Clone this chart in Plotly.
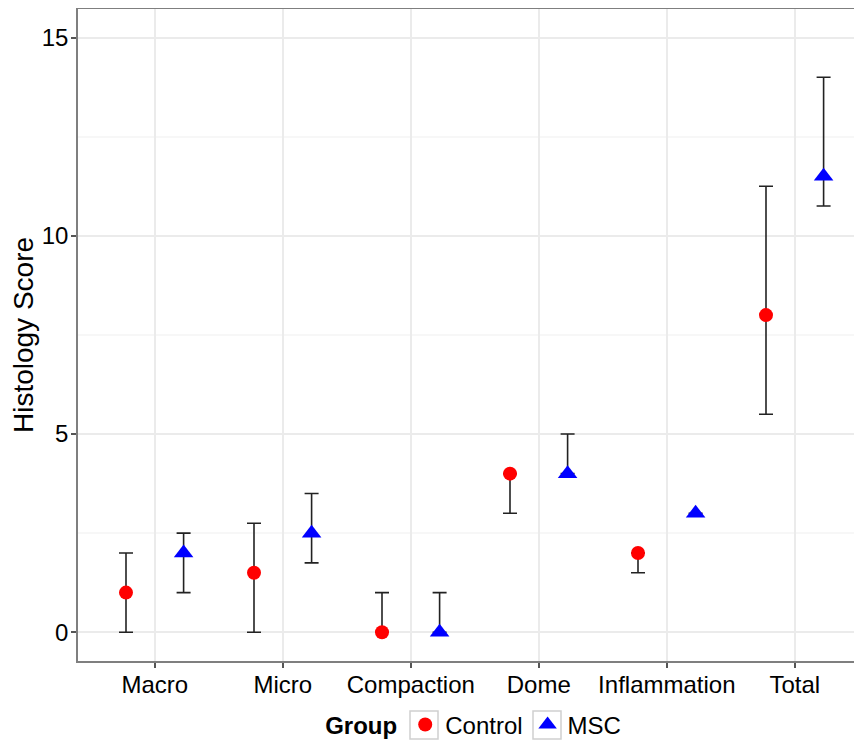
import plotly.graph_objects as go

categories = ["Macro", "Micro", "Compaction", "Dome", "Inflammation", "Total"]
control_score = [1, 1.5, 0, 4, 2, 8]
control_lo = [0, 0, 0, 3, 1.5, 5.5]
control_hi = [2, 2.75, 1, 4, 2, 11.25]
msc_score = [2, 2.5, 0, 4, 3, 11.5]
msc_lo = [1, 1.75, 0, 4, 3, 10.75]
msc_hi = [2.5, 3.5, 1, 5, 3, 14]

dodge = 0.225
idx = list(range(len(categories)))

def trace(name, scores, lo, hi, offset, color, symbol, size):
    return go.Scatter(
        x=[i + offset for i in idx], y=scores, mode="markers", name=name,
        marker=dict(color=color, symbol=symbol, size=size, line=dict(width=0)),
        error_y=dict(type="data", symmetric=False,
                     array=[h - s for h, s in zip(hi, scores)],
                     arrayminus=[s - l for s, l in zip(scores, lo)],
                     color="#222222", thickness=1.6, width=7),
    )

fig = go.Figure()
fig.add_trace(trace("Control", control_score, control_lo, control_hi, -dodge, "#FF0000", "circle", 14))
fig.add_trace(trace("MSC", msc_score, msc_lo, msc_hi, dodge, "#0000FF", "triangle-up", 17))

font = "Liberation Sans, Arial, sans-serif"
W, H = 854, 735
ML, MR, MT, MB = 70, 0, 1, 82
pw, ph = W - ML - MR, H - MT - MB

# legend key boxes (ggplot style), in paper coordinates
def key_box(cx_px, cy_px, half=14):
    return dict(type="rect", xref="paper", yref="paper", layer="below",
                x0=(cx_px - half - ML) / pw, x1=(cx_px + half - ML) / pw,
                y0=(H - MB - cy_px - half) / ph, y1=(H - MB - cy_px + half) / ph,
                line=dict(color="#D0D0D0", width=1.5), fillcolor="white")

fig.update_layout(
    width=W, height=H,
    margin=dict(l=ML, r=MR, t=MT, b=MB, autoexpand=False),
    paper_bgcolor="white", plot_bgcolor="white",
    font=dict(family=font, size=24, color="#000000"),
    showlegend=True,
    legend=dict(orientation="h", x=0.506, xanchor="center", y=-0.098, yanchor="middle",
                title=dict(text="<b>Group</b>", font=dict(size=24)),
                font=dict(size=24), itemwidth=30, tracegroupgap=0,
                bgcolor="rgba(0,0,0,0)"),
    shapes=[key_box(416, 717), key_box(539, 717)],
)
fig.update_xaxes(
    range=[-0.6, 5.525], tickmode="array", tickvals=idx, ticktext=categories,
    showgrid=True, gridcolor="#EBEBEB", gridwidth=1.5, zeroline=False,
    showline=True, linecolor="#7F7F7F", linewidth=1.5, mirror=True,
    ticks="outside", ticklen=5, tickcolor="#555555", tickwidth=1.5,
    tickfont=dict(size=24, color="#000000"), ticklabelstandoff=-4,
)
fig.update_yaxes(
    range=[-0.725, 15.72], tickmode="array", tickvals=[0, 5, 10, 15],
    showgrid=True, gridcolor="#EBEBEB", gridwidth=1.5, zeroline=False,
    minor=dict(tickmode="array", tickvals=[2.5, 7.5, 12.5], showgrid=True, gridcolor="#F7F7F7", gridwidth=1.5, ticks=""),
    showline=True, linecolor="#7F7F7F", linewidth=1.5,
    ticks="outside", ticklen=5, tickcolor="#555555", tickwidth=1.5,
    tickfont=dict(size=24, color="#000000"), ticklabelstandoff=-2,
    automargin=True,
    title=dict(text="Histology Score", font=dict(size=28), standoff=9),
)

fig.write_html("out.html")
